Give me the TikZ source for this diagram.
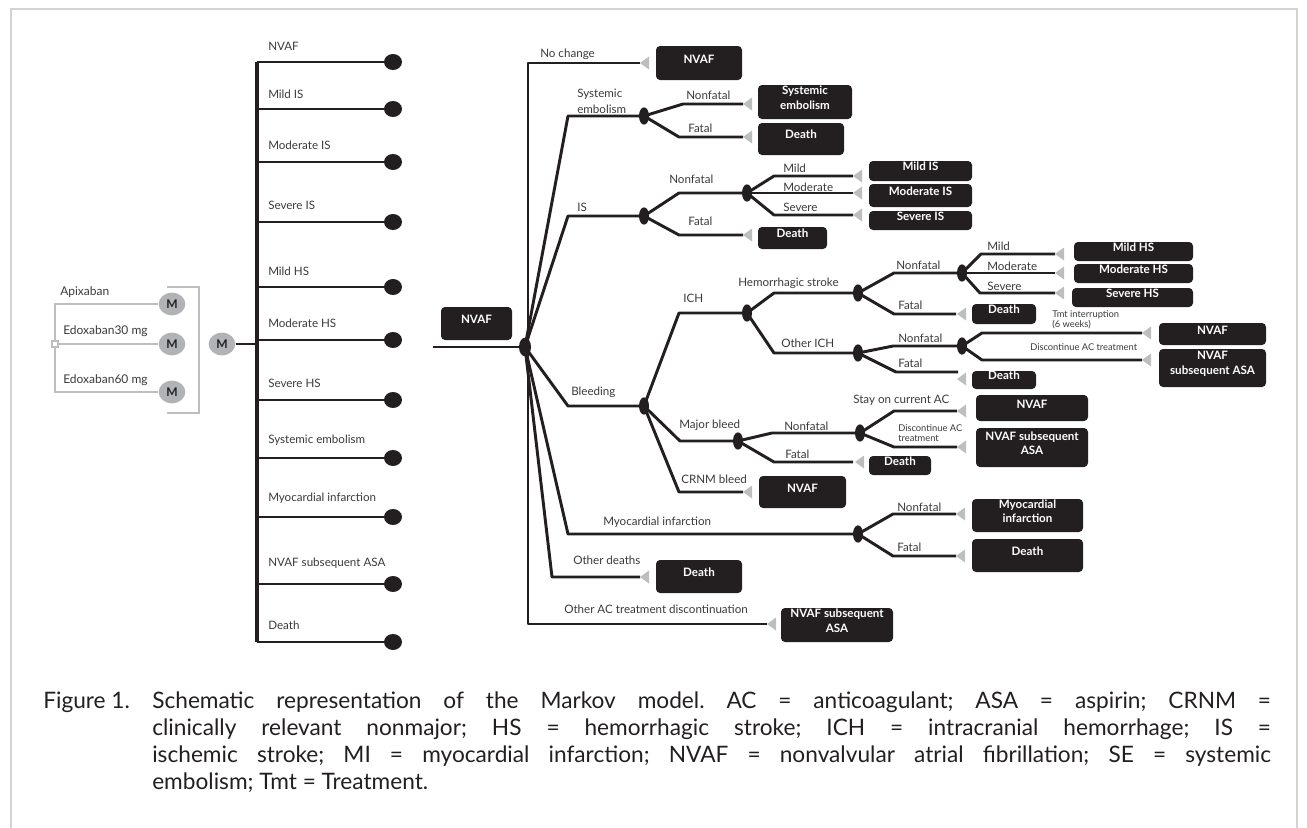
\documentclass[tikz,border=0pt]{standalone}
\usepackage{fontspec}
\setmainfont{Lato}
\frenchspacing
\usetikzlibrary{shapes.geometric,fit}
\definecolor{ink}{HTML}{231F20}
\definecolor{arrc}{HTML}{BCBEC0}
\definecolor{mgray}{HTML}{B1B3B6}
\definecolor{lgray}{HTML}{BDBEC0}
\definecolor{framec}{HTML}{D3D3D3}
\definecolor{txt}{HTML}{3A3A3A}
\newcommand\tri[2]{\fill[arrc] (#1,#2) -- ++(9,-6.5) -- ++(0,13) -- cycle;}
\begin{document}
\begin{tikzpicture}[x=0.75pt,y=-0.75pt,
  ln/.style={ink,line width=2.2pt,line join=round},
  gln/.style={lgray,line width=2.2pt},
  chance/.style={ellipse,fill=ink,inner sep=0,minimum width=7.5pt,minimum height=13pt},
  term/.style={ellipse,fill=ink,inner sep=0,minimum width=13.5pt,minimum height=12pt},
  mnode/.style={ellipse,fill=mgray,inner sep=0,minimum width=20pt,minimum height=17pt,font=\bfseries\fontsize{9}{10}\selectfont,text=ink},
  box/.style={fill=ink,rounded corners=3pt,inner sep=0,text=white,font=\bfseries\fontsize{8.7}{11}\selectfont,align=center},
  lab/.style={anchor=west,inner sep=0,text=txt,font=\fontsize{8.7}{12}\selectfont,align=left},
  slab/.style={anchor=west,inner sep=0,text=txt,font=\fontsize{7}{7.5}\selectfont,align=left},
  captxt/.style={anchor=base west,inner sep=0,text=ink,font=\fontsize{17}{20}\selectfont},
]
\useasboundingbox (0,0) rectangle (1307,828);
% frame
\draw[framec,line width=2.2pt] (11,828) -- (11,9) -- (1297,9) -- (1297,828);

% ---------- left panel ----------
\node[mnode] (mA) at (172,304) {M};
\node[mnode] (mB) at (172,344) {M};
\node[mnode] (mC) at (172,392) {M};
\node[mnode] (mM) at (222,344) {M};
\node[draw=lgray,fill=white,line width=1.1pt,minimum size=4.5pt,inner sep=0] (sq) at (55,344) {};
\draw[gln] (mA.west) -- (55,304) -- (sq.north);
\draw[gln] (sq.east) -- (mB.west);
\draw[gln] (sq.south) -- (55,392) -- (mC.west);
\draw[gln] (167,287) -- (199,287) -- (199,413) -- (167,413);
\node[lab,font=\fontsize{9}{10}\selectfont] (lA) at (60,292) {Apixaban};
\node[lab,font=\fontsize{9}{10}\selectfont] (lB) at (63,331) {Edoxaban30 mg};
\node[lab,font=\fontsize{9}{10}\selectfont] (lC) at (63,380) {Edoxaban60 mg};

\coordinate (vt) at (257,62);
\coordinate (vb) at (257,642);
\coordinate (vm) at (257,344);
\draw[ink,line width=2.6pt] (vt) -- (vb);
\draw[ln] (mM.east) -- (vm);
\foreach \y/\ly/\t [count=\i] in {62/46/NVAF,109/94/Mild IS,162/145/Moderate IS,222/205/Severe IS,287/271/Mild HS,340/323/Moderate HS,400/383/Severe HS,458/440/Systemic embolism,517/498/Myocardial infarction,584/563/NVAF subsequent ASA,642/625/Death}{
  \node[term] (t\i) at (393,\y) {};
  \draw[ln] (257,\y) -- (t\i.center);
  \node[lab] (tl\i) at (268,\ly) {\t};
}

% ---------- main tree ----------
\node[box,fit={(441,307)(512,340)}] (bRoot) {NVAF};
\node[chance,minimum width=9pt,minimum height=14pt] (root) at (525,347) {};
\coordinate (in) at (433,347);
\draw[ln] (in) -- (root.center);

% no change / other AC discontinuation
\coordinate (eNC) at (640,63);
\coordinate (eOAC) at (767,624);
\draw[ln] (eNC) -- (528,63) -- (528,624) -- (eOAC);
\tri{640}{63}
\tri{767}{624}
\node[box,fit={(656,46)(742,80)}] (bNC) {NVAF};
\node[box,fit={(781,608)(893,642)}] (bOAC) {NVAF subsequent\\ASA};
\node[lab] at (540,54) {No change};
\node[lab] at (564,609) {Other AC treatment discontinuation};

% systemic embolism
\node[chance] (nSE) at (644,116) {};
\draw[ln] (root.center) -- (568,116) -- (nSE.center);
\node[lab] at (577,101) {Systemic\\embolism};
\coordinate (eSEnf) at (743,104);
\coordinate (eSEf) at (743,137);
\draw[ln] (nSE.center) -- (683,104) -- (eSEnf);
\draw[ln] (nSE.center) -- (679,137) -- (eSEf);
\tri{743}{104}
\tri{743}{137}
\node[box,fit={(758,85)(852,119)}] (bSEnf) {Systemic\\embolism};
\node[box,fit={(758,123)(844,155)}] (bSEf) {Death};
\node[lab] at (686,95) {Nonfatal};
\node[lab] at (688,128) {Fatal};

% IS
\node[chance] (nIS) at (644,216) {};
\node[chance] (nISnf) at (747,193) {};
\draw[ln] (root.center) -- (568,216) -- (nIS.center);
\draw[ln] (nIS.center) -- (679,193) -- (nISnf.center);
\coordinate (eISmi) at (853,176);
\coordinate (eISmo) at (853,193);
\coordinate (eISse) at (853,215);
\coordinate (eISf) at (743,235);
\draw[ln] (nISnf.center) -- (774,176) -- (eISmi);
\draw[ln] (nISnf.center) -- (eISmo);
\draw[ln] (nISnf.center) -- (774,215) -- (eISse);
\draw[ln] (nIS.center) -- (679,235) -- (eISf);
\tri{853}{176}
\tri{853}{193}
\tri{853}{215}
\tri{743}{235}
\node[box,fit={(869,161)(972,181)}] (bISmi) {Mild IS};
\node[box,fit={(869,184)(972,207)}] (bISmo) {Moderate IS};
\node[box,fit={(869,211)(972,230)}] (bISse) {Severe IS};
\node[box,fit={(758,227)(827,249)}] (bISf) {Death};
\node[lab] at (577,207) {IS};
\node[lab] at (669,179) {Nonfatal};
\node[lab] at (688,221) {Fatal};
\node[lab] at (783,168) {Mild};
\node[lab] at (783,187) {Moderate};
\node[lab] at (783,207) {Severe};

% bleeding
\node[chance] (nBl) at (644,406) {};
\node[chance] (nICH) at (747,313) {};
\node[chance] (nHS) at (858,293) {};
\node[chance] (nOI) at (858,353) {};
\node[chance] (nHSnf) at (962,273) {};
\node[chance] (nOInf) at (962,346) {};
\node[chance] (nMB) at (738,441) {};
\node[chance] (nMBnf) at (860,433) {};
\draw[ln] (root.center) -- (568,406) -- (nBl.center);
\node[lab] at (571,392) {Bleeding};
% ICH
\draw[ln] (nBl.center) -- (679,313) -- (nICH.center);
\node[lab] at (683,298) {ICH};
\draw[ln] (nICH.center) -- (774,293) -- (nHS.center);
\draw[ln] (nICH.center) -- (774,353) -- (nOI.center);
\node[lab] at (738,283) {Hemorrhagic stroke};
\node[lab] at (781,343) {Other ICH};
% hemorrhagic stroke
\draw[ln] (nHS.center) -- (894,273) -- (nHSnf.center);
\node[lab] at (896,265) {Nonfatal};
\coordinate (eHSmi) at (1055,254);
\coordinate (eHSmo) at (1055,273);
\coordinate (eHSse) at (1055,293);
\coordinate (eHSf) at (956,314);
\draw[ln] (nHSnf.center) -- (981,254) -- (eHSmi);
\draw[ln] (nHSnf.center) -- (eHSmo);
\draw[ln] (nHSnf.center) -- (980,293) -- (eHSse);
\draw[ln] (nHS.center) -- (894,314) -- (eHSf);
\tri{1055}{254}
\tri{1055}{273}
\tri{1055}{293}
\tri{957}{314}
\node[box,fit={(1074,242)(1193,261)}] (bHSmi) {Mild HS};
\node[box,fit={(1074,264)(1193,283)}] (bHSmo) {Moderate HS};
\node[box,fit={(1072,288)(1193,307)}] (bHSse) {Severe HS};
\node[box,fit={(972,304)(1036,324)}] (bHSf) {Death};
\node[lab] at (987,246) {Mild};
\node[lab] at (987,266) {Moderate};
\node[lab] at (987,286) {Severe};
\node[lab] at (898,305) {Fatal};
% other ICH
\draw[ln] (nOI.center) -- (893,346) -- (nOInf.center);
\node[lab] at (898,338) {Nonfatal};
\coordinate (eOItm) at (1142,333);
\coordinate (eOIdc) at (1142,360);
\coordinate (eOIf) at (958,372);
\draw[ln] (nOInf.center) -- (982,333) -- (eOItm);
\draw[ln] (nOInf.center) -- (982,360) -- (eOIdc);
\draw[ln] (nOI.center) -- (896,372) -- (eOIf);
\tri{1142}{333}
\tri{1142}{360}
\tri{957}{379}
\node[box,fit={(1159,323)(1266,345)}] (bOItm) {NVAF};
\node[box,fit={(1159,349)(1266,387)}] (bOIdc) {NVAF\\subsequent ASA};
\node[box,fit={(972,371)(1036,389)}] (bOIf) {Death};
\node[slab] at (1052,320) {Tmt interruption\\(6 weeks)};
\node[slab] at (1030,347) {Discontinue AC treatment};
\node[lab] at (898,363) {Fatal};
% major bleed
\draw[ln] (nBl.center) -- (680,441) -- (nMB.center);
\node[lab] at (679,425) {Major bleed};
\draw[ln] (nMB.center) -- (772,433) -- (nMBnf.center);
\node[lab] at (784,426) {Nonfatal};
\coordinate (eMBst) at (957,411);
\coordinate (eMBdc) at (957,447);
\coordinate (eMBf) at (853,462);
\draw[ln] (nMBnf.center) -- (894,411) -- (eMBst);
\draw[ln] (nMBnf.center) -- (894,447) -- (eMBdc);
\draw[ln] (nMB.center) -- (774,462) -- (eMBf);
\tri{957}{411}
\tri{957}{447}
\tri{855}{462}
\node[box,fit={(976,395)(1088,421)}] (bMBst) {NVAF};
\node[box,fit={(976,428)(1088,467)}] (bMBdc) {NVAF subsequent\\ASA};
\node[box,fit={(869,456)(931,475)}] (bMBf) {Death};
\node[lab] at (853,400) {Stay on current AC};
\node[slab] at (898,433) {Discontinue AC\\treatment};
\node[lab] at (785,454) {Fatal};
% CRNM
\coordinate (eCR) at (743,492);
\draw[ln] (nBl.center) -- (679,492) -- (eCR);
\tri{743}{492}
\node[box,fit={(759,476)(846,508)}] (bCR) {NVAF};
\node[lab] at (681,479) {CRNM bleed};

% myocardial infarction
\node[chance] (nMI) at (858,534) {};
\draw[ln] (root.center) -- (568,534) -- (nMI.center);
\node[lab] at (603,522) {Myocardial infarction};
\coordinate (eMInf) at (956,514);
\coordinate (eMIf) at (956,556);
\draw[ln] (nMI.center) -- (893,514) -- (eMInf);
\draw[ln] (nMI.center) -- (893,556) -- (eMIf);
\tri{956}{514}
\tri{956}{556}
\node[box,fit={(972,499)(1083,532)}] (bMInf) {Myocardial\\infarction};
\node[box,fit={(972,539)(1083,572)}] (bMIf) {Death};
\node[lab] at (897,507) {Nonfatal};
\node[lab] at (897,547) {Fatal};

% other deaths
\coordinate (eOD) at (640,577);
\draw[ln] (root.center) -- (552,577) -- (eOD);
\tri{640}{577}
\node[box,fit={(656,560)(742,593)}] (bOD) {Death};
\node[lab] at (573,560) {Other deaths};

% ---------- caption ----------
\node[captxt] (c0) at (43,708) {Figure 1.};
\node[captxt] (c1) at (152,708) {\makebox[839pt][s]{Schematic representation of the Markov model. AC = anticoagulant; ASA = aspirin; CRNM =}};
\node[captxt] (c2) at (152,735) {\makebox[839pt][s]{clinically relevant nonmajor; HS = hemorrhagic stroke; ICH = intracranial hemorrhage; IS =}};
\node[captxt] (c3) at (152,762) {\makebox[839pt][s]{ischemic stroke; MI = myocardial infarction; NVAF = nonvalvular atrial fibrillation; SE = systemic}};
\node[captxt] (c4) at (152,789) {embolism; Tmt = Treatment.};
\end{tikzpicture}
\end{document}
